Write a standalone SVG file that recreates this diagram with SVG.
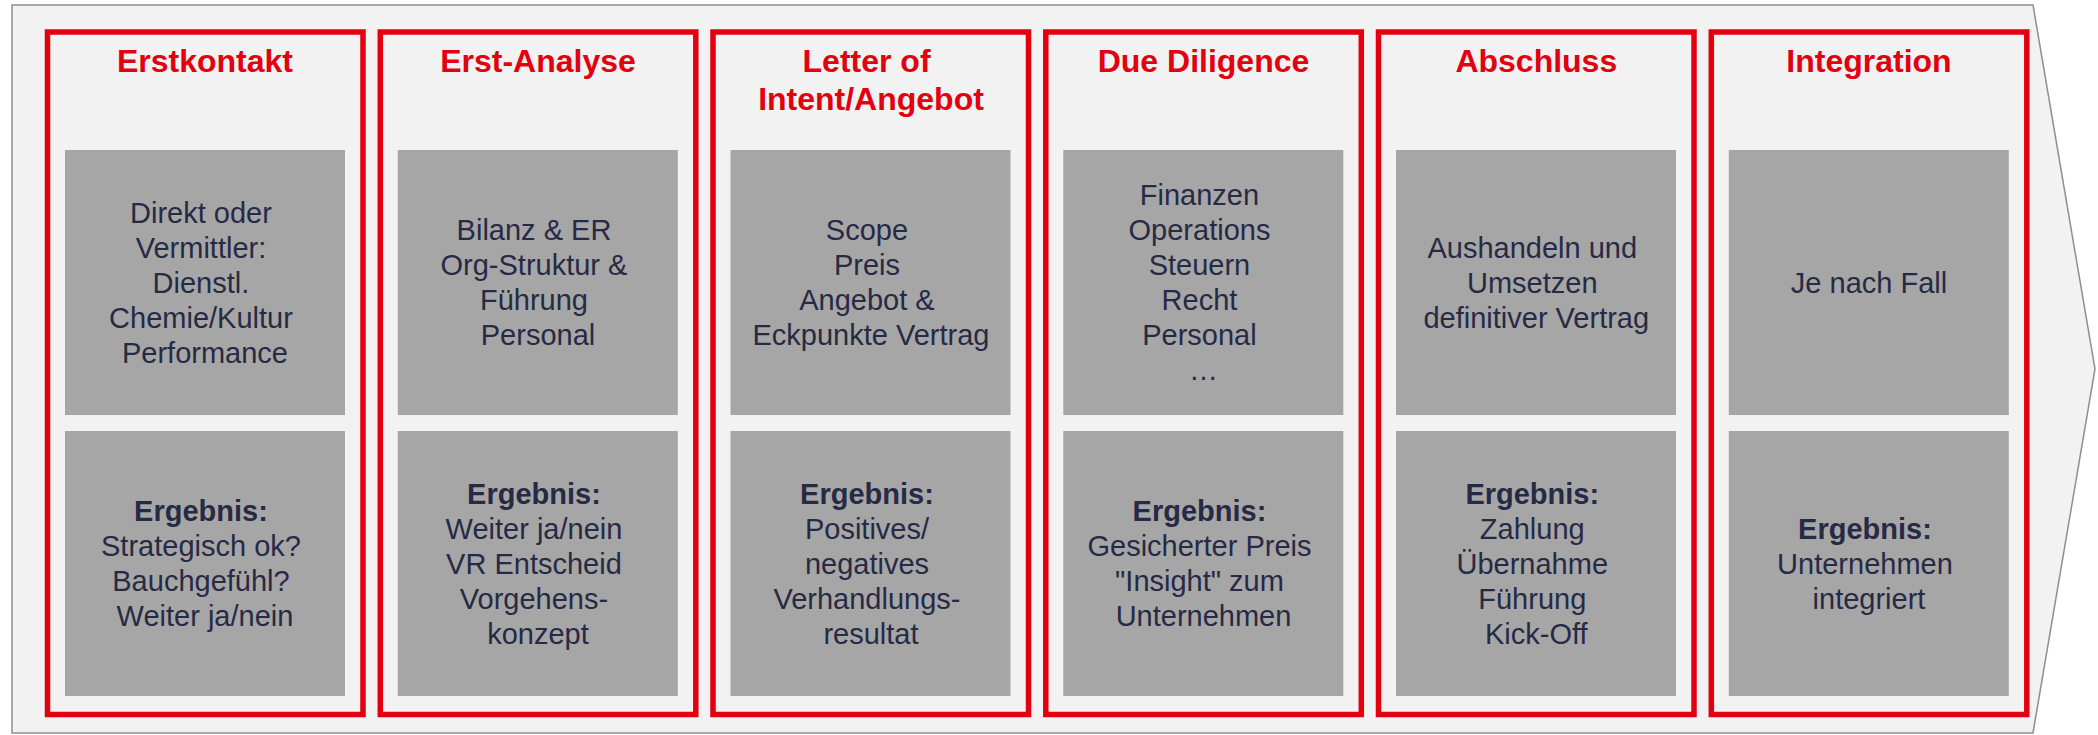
<svg xmlns="http://www.w3.org/2000/svg" width="2098" height="735" viewBox="0 0 2098 735">
  <style>
    .bg { fill: #f2f2f2; stroke: #8f8f8f; stroke-width: 1.5; }
    .frame { fill: none; stroke: #e3000f; stroke-width: 5.5; }
    .panel { fill: #a6a6a6; }
    .title { font-family: "Liberation Sans", Arial, sans-serif; font-size: 32px; font-weight: bold; fill: #e3000f; text-anchor: middle; }
    .body { font-family: "Liberation Sans", Arial, sans-serif; font-size: 29px; fill: #262a45; text-anchor: middle; }
    .body .b { font-weight: bold; }
  </style>

  <!-- process arrow backdrop -->
  <polygon class="bg" points="12,5 2033,5 2095,369 2033,733 12,733"/>

  <!-- phase 1 -->
  <g id="erstkontakt">
    <rect class="frame" x="47.5" y="32" width="315.5" height="682.5"/>
    <text class="title" x="205" y="72">Erstkontakt</text>
    <rect class="panel" x="65" y="150" width="280" height="265"/>
    <text class="body" x="205" y="222.8">
      <tspan x="205" dy="0">Direkt oder</tspan>
      <tspan x="205" dy="35">Vermittler:</tspan>
      <tspan x="205" dy="35">Dienstl.</tspan>
      <tspan x="205" dy="35">Chemie/Kultur</tspan>
      <tspan x="205" dy="35">Performance</tspan>
    </text>
    <rect class="panel" x="65" y="431" width="280" height="265"/>
    <text class="body" x="205" y="521.3">
      <tspan class="b" x="205" dy="0">Ergebnis:</tspan>
      <tspan x="205" dy="35">Strategisch ok?</tspan>
      <tspan x="205" dy="35">Bauchgefühl?</tspan>
      <tspan x="205" dy="35">Weiter ja/nein</tspan>
    </text>
  </g>

  <!-- phase 2 -->
  <g id="erst-analyse">
    <rect class="frame" x="380.3" y="32" width="315.5" height="682.5"/>
    <text class="title" x="538" y="72">Erst-Analyse</text>
    <rect class="panel" x="397.8" y="150" width="280" height="265"/>
    <text class="body" x="538" y="240.3">
      <tspan x="538" dy="0">Bilanz &amp; ER</tspan>
      <tspan x="538" dy="35">Org-Struktur &amp;</tspan>
      <tspan x="538" dy="35">Führung</tspan>
      <tspan x="538" dy="35">Personal</tspan>
    </text>
    <rect class="panel" x="397.8" y="431" width="280" height="265"/>
    <text class="body" x="538" y="503.8">
      <tspan class="b" x="538" dy="0">Ergebnis:</tspan>
      <tspan x="538" dy="35">Weiter ja/nein</tspan>
      <tspan x="538" dy="35">VR Entscheid</tspan>
      <tspan x="538" dy="35">Vorgehens-</tspan>
      <tspan x="538" dy="35">konzept</tspan>
    </text>
  </g>

  <!-- phase 3 -->
  <g id="letter-of-intent">
    <rect class="frame" x="713" y="32" width="315.5" height="682.5"/>
    <text class="title" x="871" y="72">
      <tspan x="871" dy="0">Letter of</tspan>
      <tspan x="871" dy="38">Intent/Angebot</tspan>
    </text>
    <rect class="panel" x="730.5" y="150" width="280" height="265"/>
    <text class="body" x="871" y="240.3">
      <tspan x="871" dy="0">Scope</tspan>
      <tspan x="871" dy="35">Preis</tspan>
      <tspan x="871" dy="35">Angebot &amp;</tspan>
      <tspan x="871" dy="35">Eckpunkte Vertrag</tspan>
    </text>
    <rect class="panel" x="730.5" y="431" width="280" height="265"/>
    <text class="body" x="871" y="503.8">
      <tspan class="b" x="871" dy="0">Ergebnis:</tspan>
      <tspan x="871" dy="35">Positives/</tspan>
      <tspan x="871" dy="35">negatives</tspan>
      <tspan x="871" dy="35">Verhandlungs-</tspan>
      <tspan x="871" dy="35">resultat</tspan>
    </text>
  </g>

  <!-- phase 4 -->
  <g id="due-diligence">
    <rect class="frame" x="1045.8" y="32" width="315.5" height="682.5"/>
    <text class="title" x="1203.5" y="72">Due Diligence</text>
    <rect class="panel" x="1063.3" y="150" width="280" height="265"/>
    <text class="body" x="1203.5" y="205.3">
      <tspan x="1203.5" dy="0">Finanzen</tspan>
      <tspan x="1203.5" dy="35">Operations</tspan>
      <tspan x="1203.5" dy="35">Steuern</tspan>
      <tspan x="1203.5" dy="35">Recht</tspan>
      <tspan x="1203.5" dy="35">Personal</tspan>
      <tspan x="1203.5" dy="35">…</tspan>
    </text>
    <rect class="panel" x="1063.3" y="431" width="280" height="265"/>
    <text class="body" x="1203.5" y="521.3">
      <tspan class="b" x="1203.5" dy="0">Ergebnis:</tspan>
      <tspan x="1203.5" dy="35">Gesicherter Preis</tspan>
      <tspan x="1203.5" dy="35">"Insight" zum</tspan>
      <tspan x="1203.5" dy="35">Unternehmen</tspan>
    </text>
  </g>

  <!-- phase 5 -->
  <g id="abschluss">
    <rect class="frame" x="1378.5" y="32" width="315.5" height="682.5"/>
    <text class="title" x="1536.3" y="72">Abschluss</text>
    <rect class="panel" x="1396" y="150" width="280" height="265"/>
    <text class="body" x="1536.3" y="257.8">
      <tspan x="1536.3" dy="0">Aushandeln und</tspan>
      <tspan x="1536.3" dy="35">Umsetzen</tspan>
      <tspan x="1536.3" dy="35">definitiver Vertrag</tspan>
    </text>
    <rect class="panel" x="1396" y="431" width="280" height="265"/>
    <text class="body" x="1536.3" y="503.8">
      <tspan class="b" x="1536.3" dy="0">Ergebnis:</tspan>
      <tspan x="1536.3" dy="35">Zahlung</tspan>
      <tspan x="1536.3" dy="35">Übernahme</tspan>
      <tspan x="1536.3" dy="35">Führung</tspan>
      <tspan x="1536.3" dy="35">Kick-Off</tspan>
    </text>
  </g>

  <!-- phase 6 -->
  <g id="integration">
    <rect class="frame" x="1711.3" y="32" width="315.5" height="682.5"/>
    <text class="title" x="1869" y="72">Integration</text>
    <rect class="panel" x="1728.8" y="150" width="280" height="265"/>
    <text class="body" x="1869" y="292.8">Je nach Fall</text>
    <rect class="panel" x="1728.8" y="431" width="280" height="265"/>
    <text class="body" x="1869" y="538.8">
      <tspan class="b" x="1869" dy="0">Ergebnis:</tspan>
      <tspan x="1869" dy="35">Unternehmen</tspan>
      <tspan x="1869" dy="35">integriert</tspan>
    </text>
  </g>

  <!-- no connectors between phases -->
  <g id="connectors"/>
</svg>
